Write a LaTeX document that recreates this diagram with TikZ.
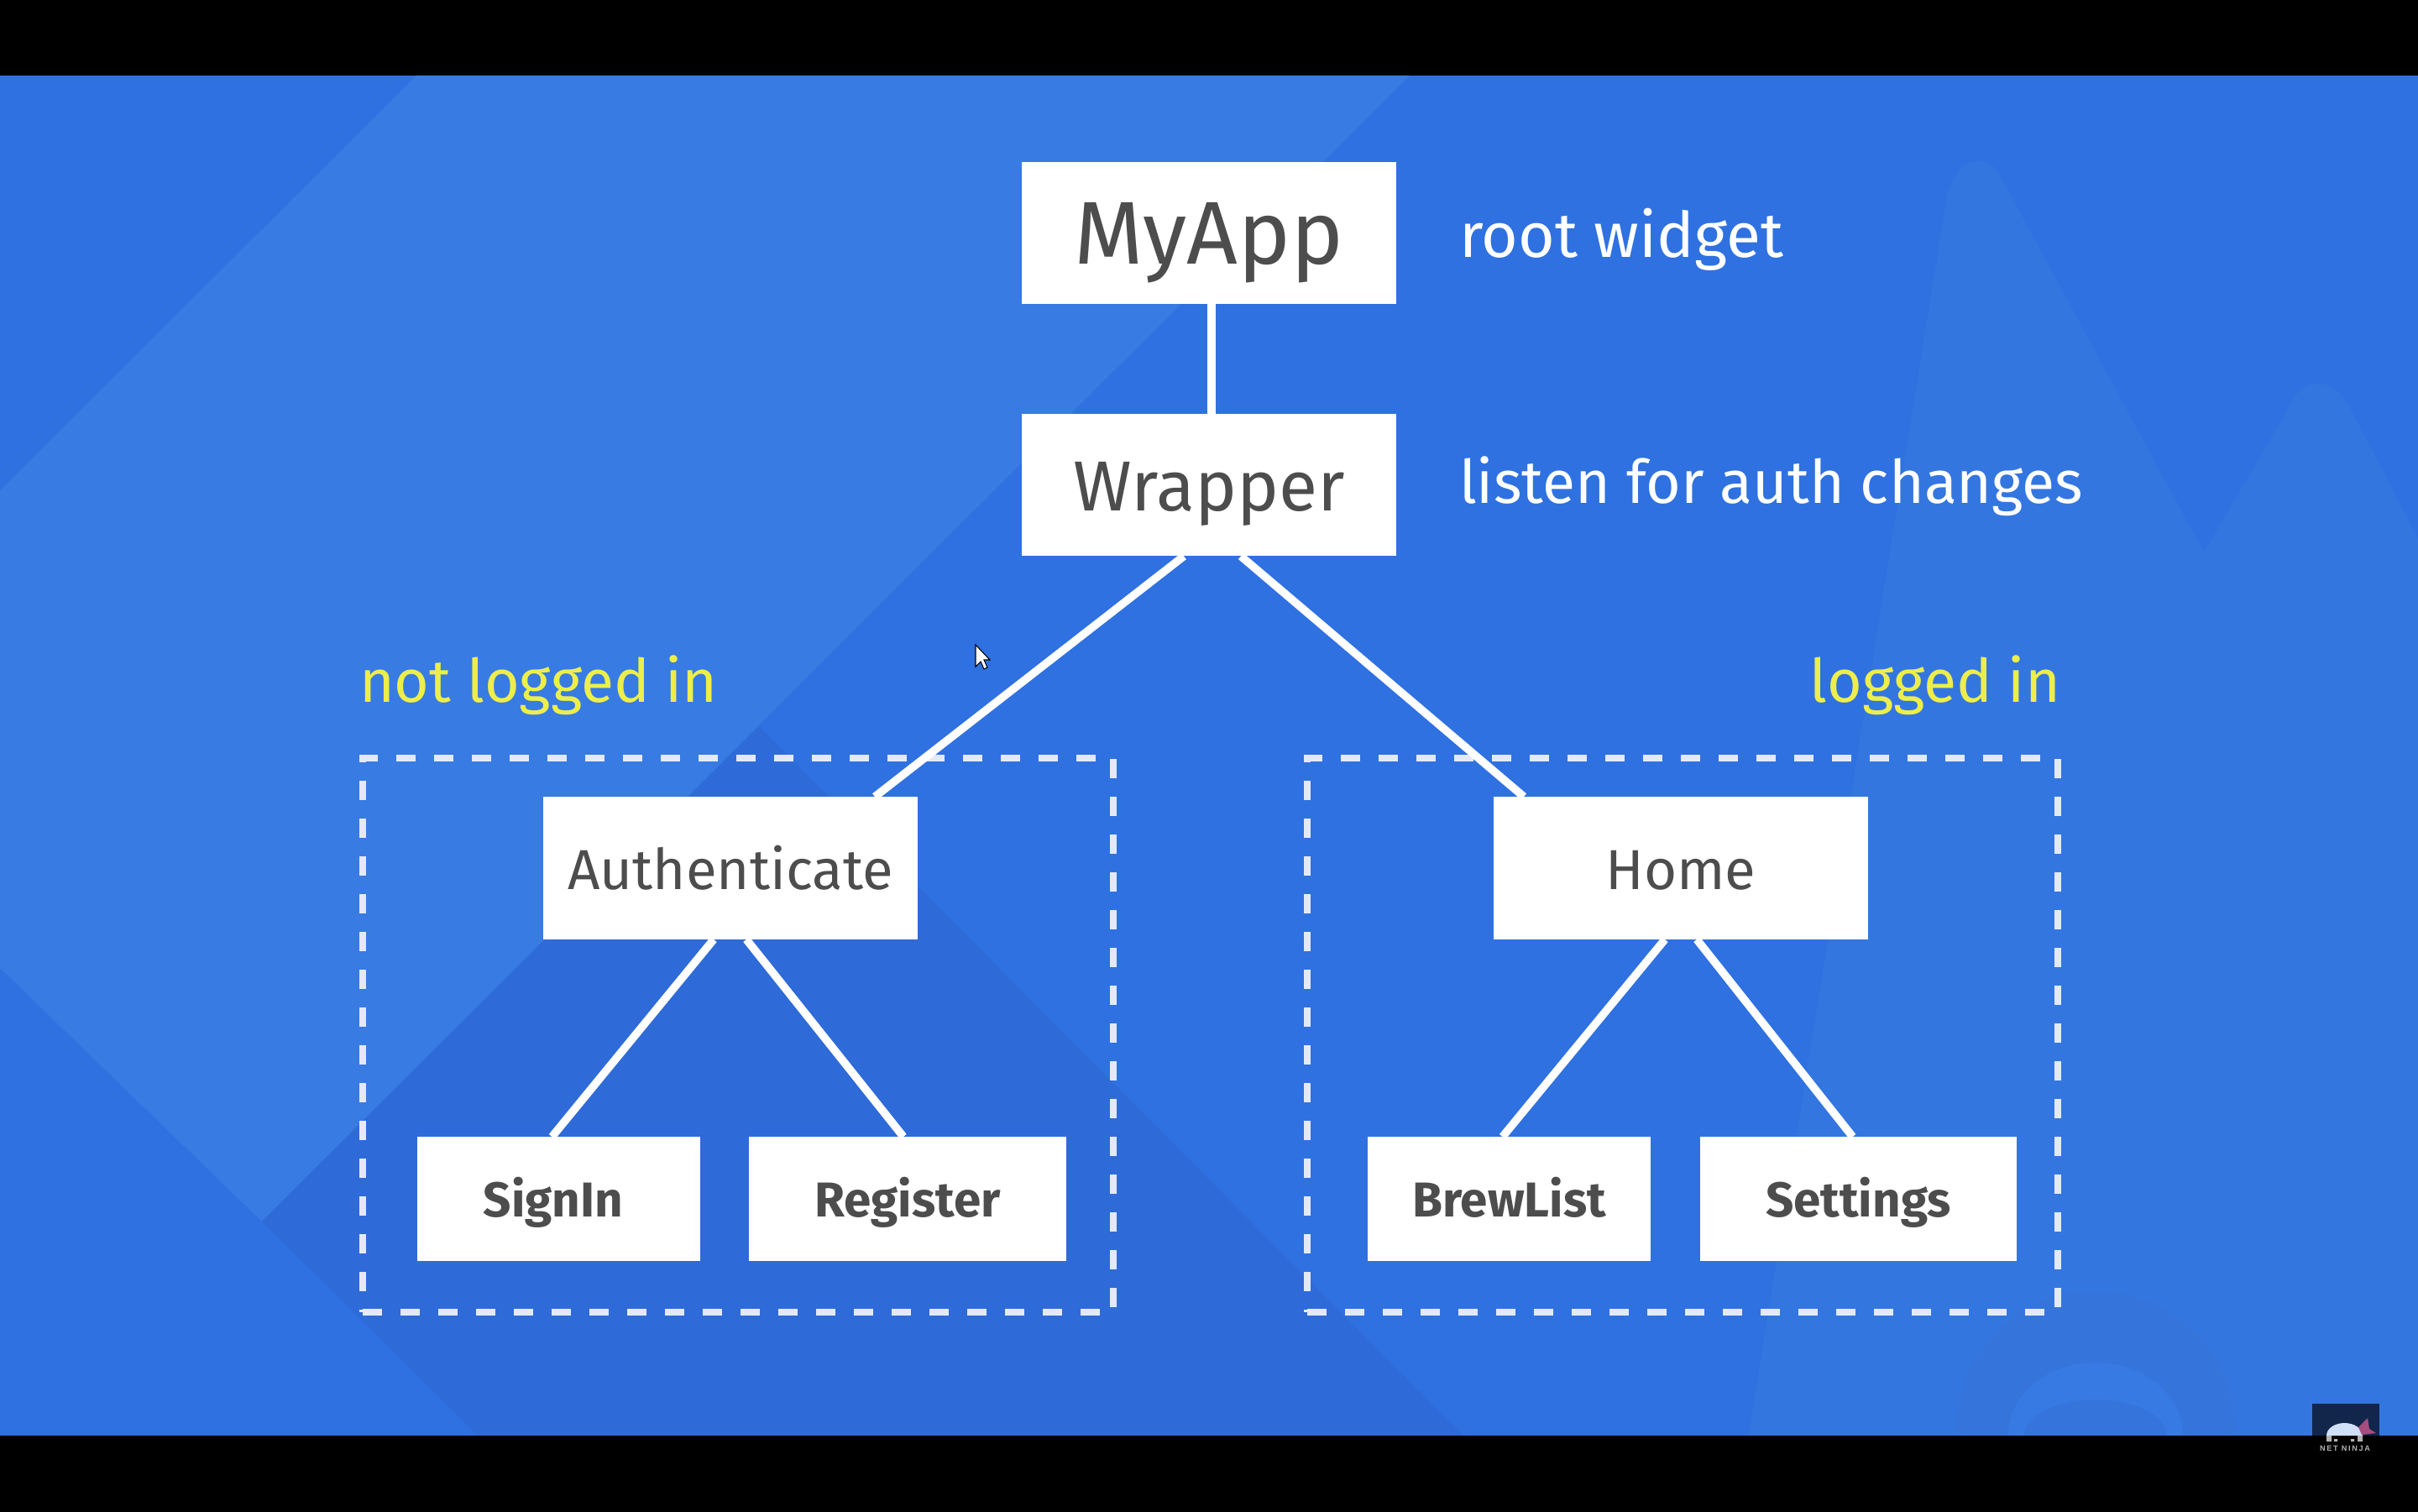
\documentclass[tikz,border=0pt]{standalone}
\usepackage{fontspec}
\setmainfont{Fira Sans}
\newfontfamily\logofont[LetterSpace=18]{Liberation Sans}
\definecolor{bgbase}{HTML}{2F71E0}
\definecolor{bglight}{HTML}{377BE3}
\definecolor{bgdark}{HTML}{2E6BD8}
\definecolor{bgpeak}{HTML}{3476E0}
\definecolor{bgring}{HTML}{3575DB}
\definecolor{bgface}{HTML}{387AE4}
\definecolor{boxtext}{HTML}{4D4D4D}
\definecolor{notetext}{HTML}{EDEE4A}
\definecolor{dashline}{HTML}{E3EAF6}
\definecolor{logoback}{HTML}{11264A}
\definecolor{logohead}{HTML}{CFE0F8}
\definecolor{logotail}{HTML}{A64D7E}
\tikzset{
  box/.style={fill=white,text=boxtext,inner sep=0pt,outer sep=0pt,text depth=0pt},
  topbox/.style={box,minimum width=4.465cm,minimum height=1.69cm},
  midbox/.style={box,minimum width=4.465cm,minimum height=1.70cm,text height=.50cm,font=\fontsize{19.1}{22}\selectfont},
  leafbox/.style={box,minimum height=1.48cm,text height=.42cm,font=\bfseries\fontsize{16.6}{20}\selectfont},
  note/.style={inner sep=0pt,outer sep=0pt,text=white,anchor=base west,font=\fontsize{20.35}{24}\selectfont},
  state/.style={note,text=notetext},
  group/.style={draw=dashline,line width=.075cm,dash pattern=on .23cm off .22cm,minimum width=8.94cm,minimum height=6.60cm,inner sep=0pt,outer sep=0pt},
  link/.style={draw=white,line width=.095cm}
}
\begin{document}
\begin{tikzpicture}
  \useasboundingbox (0,0) rectangle (28.8,18);
  \fill[black] (-.05,-.05) rectangle (28.85,18.05);
  \fill[bgbase] (0,.9) rectangle (28.8,17.1);
  \fill[bglight] (4.96,17.1) -- (16.79,17.1) -- (3.12,3.45) -- (0,6.47) -- (0,12.16) -- cycle;
  \fill[bgdark] (9.04,9.35) -- (17.43,.9) -- (5.69,.9) -- (3.12,3.45) -- cycle;
  \fill[bgpeak] (20.83,.9) -- (23.18,15.6) .. controls (23.28,16.2) and (23.72,16.2) .. (23.86,15.84)
    -- (26.25,11.42) -- (27.26,13.14) .. controls (27.4,13.53) and (27.8,13.53) .. (27.99,13.14)
    -- (28.8,11.59) -- (28.8,.9) -- cycle;
  \fill[bgring] (24.96,1) ellipse (1.65 and 1.62);
  \fill[bgface] (24.96,.9) ellipse (1.04 and .87);
  \fill[bgring] (24.96,.9) ellipse (.85 and .43);
  \fill[black] (-.05,-.05) rectangle (28.85,.9);
  \draw
    (8.79,5.67) node[group] (authgroup){}
    (20.04,5.67) node[group] (homegroup){};
  \draw
    (14.40,15.22) node[topbox,text height=.74cm,font=\fontsize{30.2}{34}\selectfont] (myapp){MyApp}
    (14.40,12.22) node[topbox,text height=.62cm,font=\fontsize{24}{28}\selectfont] (wrapper){Wrapper}
    (8.70,7.66) node[midbox] (authenticate){Authenticate}
    (20.02,7.66) node[midbox] (home){Home}
    (6.655,3.72) node[leafbox,minimum width=3.37cm] (signin){SignIn\kern.13cm}
    (10.81,3.72) node[leafbox,minimum width=3.78cm] (register){Register}
    (17.976,3.72) node[leafbox,minimum width=3.37cm] (brewlist){BrewList}
    (22.136,3.72) node[leafbox,minimum width=3.77cm] (settings){Settings};
  \draw
    (17.38,14.93) node[note,font=\fontsize{21.3}{24}\selectfont] (rootnote){root widget}
    (17.38,12.00) node[note] (authnote){listen for auth changes}
    (4.28,9.63) node[state] (outnote){not logged in}
    (24.54,9.63) node[state,anchor=base east] (innote){logged in};
  \begin{scope}[link]
    \draw ([xshift=.03cm]myapp.south) to ([xshift=.03cm]wrapper.north);
    \draw ([xshift=-.30cm]wrapper.south) to ([xshift=1.72cm]authenticate.north);
    \draw ([xshift=.38cm]wrapper.south) to ([xshift=-1.87cm]home.north);
    \draw ([xshift=-.20cm]authenticate.south) to ([xshift=-.08cm]signin.north);
    \draw ([xshift=.19cm]authenticate.south) to ([xshift=-.05cm]register.north);
    \draw ([xshift=-.19cm]home.south) to ([xshift=-.08cm]brewlist.north);
    \draw ([xshift=.19cm]home.south) to ([xshift=-.07cm]settings.north);
  \end{scope}
  \draw[black,line width=.3pt,fill=white] (11.62,10.32) -- (11.62,10.06) -- (11.68,10.12) -- (11.72,10.03)
    -- (11.76,10.05) -- (11.72,10.14) -- (11.79,10.14) -- cycle;
  \fill[logoback] (27.54,.9) rectangle (28.34,1.28);
  \fill[logohead] (27.71,.9) arc (180:0:.215 and .15) -- cycle;
  \fill[logotail] (28.09,1.0) -- (28.20,1.11) -- (28.22,.98) -- (28.30,.93) -- (28.13,.91) -- cycle;
  \fill[gray!60] (27.71,.83) rectangle (27.77,.9) (28.08,.83) rectangle (28.14,.9)
    (27.80,.83) rectangle (27.84,.86) (28.00,.83) rectangle (28.04,.86);
  \node[text=gray!60,inner sep=0pt,font=\logofont\bfseries\fontsize{2.6}{3}\selectfont] (logotext) at (27.93,.75) {NET NINJA};
\end{tikzpicture}
\end{document}
